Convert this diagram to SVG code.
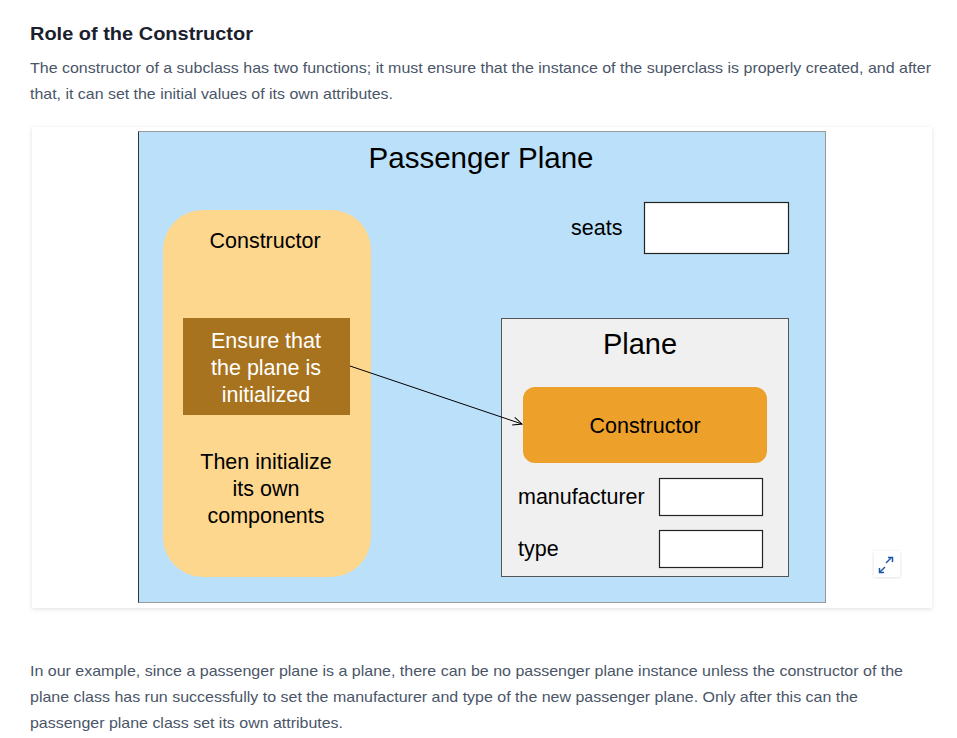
<svg xmlns="http://www.w3.org/2000/svg" width="957" height="738" viewBox="0 0 957 738">
<style>
.body{font-family:"Liberation Sans",Arial,sans-serif;font-size:15px;fill:#4a5568}
.h{font-family:"Liberation Sans",Arial,sans-serif;font-size:19px;font-weight:bold;fill:#1a202c}
.d{font-family:"Liberation Sans",Arial,sans-serif;font-size:21.5px;fill:#000;text-anchor:middle}
.dl{font-family:"Liberation Sans",Arial,sans-serif;font-size:21.5px;fill:#000}
.t{font-family:"Liberation Sans",Arial,sans-serif;font-size:29px;fill:#000;text-anchor:middle}
.w{font-family:"Liberation Sans",Arial,sans-serif;font-size:21.5px;fill:#fff;text-anchor:middle}
.field{fill:#fff;stroke:#222;stroke-width:1.2}
</style>
<defs>
<filter id="sh" x="-5%" y="-5%" width="110%" height="110%">
<feDropShadow dx="0" dy="1" stdDeviation="2" flood-color="#000" flood-opacity="0.12"/>
</filter>
<marker id="arr" markerWidth="12" markerHeight="12" refX="10" refY="5" orient="auto" markerUnits="userSpaceOnUse">
<path d="M1,1 L10,5 L1,9" fill="none" stroke="#000" stroke-width="1"/>
</marker>
</defs>
<rect width="957" height="738" fill="#fff"/>
<text class="h" x="30" y="40" textLength="223" lengthAdjust="spacingAndGlyphs">Role of the Constructor</text>
<text class="body" x="30" y="73" textLength="901" lengthAdjust="spacingAndGlyphs">The constructor of a subclass has two functions; it must ensure that the instance of the superclass is properly created, and after</text>
<text class="body" x="30" y="99" textLength="363" lengthAdjust="spacingAndGlyphs">that, it can set the initial values of its own attributes.</text>

<rect x="32" y="127" width="900" height="481" fill="#fff" filter="url(#sh)"/>

<g id="passenger-plane">
<rect x="138.5" y="131.5" width="687" height="471" fill="#bbe1fa" stroke="#999" stroke-width="1"/>
<line x1="138.5" y1="131.5" x2="138.5" y2="602.5" stroke="#333" stroke-width="1"/>
<text class="t" x="481" y="168" textLength="225" lengthAdjust="spacingAndGlyphs">Passenger Plane</text>
</g>

<g id="seats">
<text class="dl" x="571" y="235">seats</text>
<rect class="field" x="644.5" y="202.5" width="144" height="51"/>
</g>

<g id="pp-constructor">
<rect x="163" y="210" width="208" height="367" rx="40" fill="#fdd78e"/>
<text class="d" x="265" y="248">Constructor</text>
<text class="d" x="266" y="469">Then initialize</text>
<text class="d" x="266" y="496">its own</text>
<text class="d" x="266" y="523">components</text>
</g>

<g id="ensure">
<rect x="183" y="318" width="167" height="97" fill="#a8731e"/>
<text class="w" x="266" y="348">Ensure that</text>
<text class="w" x="266" y="375">the plane is</text>
<text class="w" x="266" y="402">initialized</text>
</g>

<g id="plane">
<rect x="501.5" y="318.5" width="287" height="258" fill="#f0f0f0" stroke="#555" stroke-width="1"/>
<text class="t" x="640" y="354">Plane</text>
</g>

<g id="plane-constructor">
<rect x="523" y="387" width="244" height="76" rx="12" fill="#eda02a"/>
<text class="d" x="645" y="433">Constructor</text>
</g>

<g id="manufacturer">
<text class="dl" x="518" y="504">manufacturer</text>
<rect class="field" x="659.5" y="478.5" width="103" height="37"/>
</g>

<g id="type">
<text class="dl" x="518" y="556">type</text>
<rect class="field" x="659.5" y="530.5" width="103" height="37"/>
</g>

<g id="connectors">
<line x1="350" y1="366" x2="522" y2="424" stroke="#000" stroke-width="1" marker-end="url(#arr)"/>
</g>

<g id="expand-icon">
<rect x="874" y="551" width="26" height="26" fill="#fff" filter="url(#sh)"/>
<g stroke="#1a56a8" stroke-width="1.5" fill="none">
<line x1="891" y1="558" x2="886" y2="563"/>
<path d="M888,557.5 H892.5 V562"/>
<line x1="880" y1="572" x2="885" y2="567"/>
<path d="M879.5,568 V572.5 H884"/>
</g>
</g>

<text class="body" x="30" y="676" textLength="873" lengthAdjust="spacingAndGlyphs">In our example, since a passenger plane is a plane, there can be no passenger plane instance unless the constructor of the</text>
<text class="body" x="30" y="702" textLength="828" lengthAdjust="spacingAndGlyphs">plane class has run successfully to set the manufacturer and type of the new passenger plane. Only after this can the</text>
<text class="body" x="30" y="728" textLength="313" lengthAdjust="spacingAndGlyphs">passenger plane class set its own attributes.</text>
</svg>
